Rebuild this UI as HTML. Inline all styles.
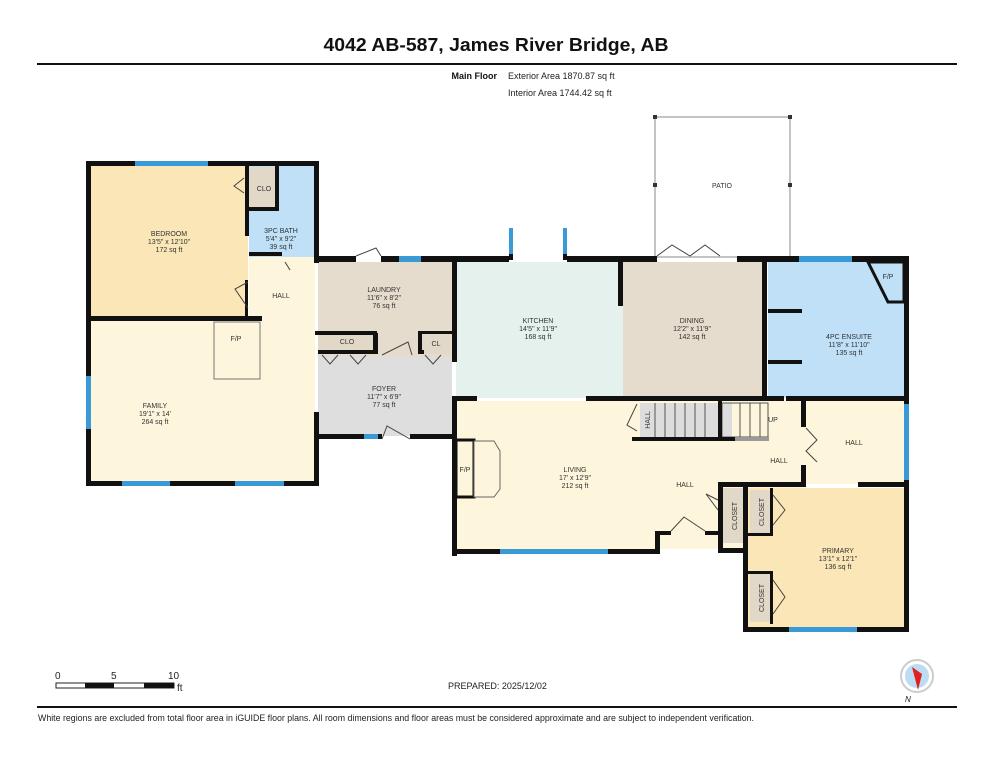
<!DOCTYPE html>
<html><head><meta charset="utf-8"><style>
html,body{margin:0;padding:0;background:#fff;}
svg{display:block;font-family:"Liberation Sans",sans-serif;}
.l{font-size:7px;fill:#333;text-anchor:middle;}
.w{fill:#111;}
.win{fill:#3a9ad6;}
</style></head><body>
<svg width="993" height="768" viewBox="0 0 993 768" xmlns="http://www.w3.org/2000/svg">
<rect width="993" height="768" fill="#fff"/>
<text x="496" y="51" font-size="18" font-weight="bold" text-anchor="middle" textLength="345" lengthAdjust="spacingAndGlyphs" fill="#111">4042 AB-587, James River Bridge, AB</text>
<rect x="37" y="63" width="920" height="2" fill="#111"/>
<text x="497" y="79" font-size="9" font-weight="bold" text-anchor="end" fill="#111">Main Floor</text>
<text x="508" y="79" font-size="9" fill="#222">Exterior Area 1870.87 sq ft</text>
<text x="508" y="96" font-size="9" fill="#222">Interior Area 1744.42 sq ft</text>

<!-- patio -->
<rect x="655" y="117" width="135" height="140" fill="none" stroke="#888" stroke-width="1"/>
<rect x="653" y="115" width="4" height="4" fill="#333"/><rect x="788" y="115" width="4" height="4" fill="#333"/>
<rect x="653" y="183" width="4" height="4" fill="#333"/><rect x="788" y="183" width="4" height="4" fill="#333"/>
<text x="722" y="188" font-size="7" text-anchor="middle" fill="#333">PATIO</text>

<!-- fills -->
<rect x="90" y="165" width="158" height="153" fill="#fbe6b8"/>
<rect x="249" y="165" width="66" height="92" fill="#bfe0f7"/>
<rect x="249" y="167" width="28" height="43" fill="#e2d8c8"/>
<rect x="249" y="257" width="66" height="63" fill="#fdf6dc"/>
<rect x="90" y="320" width="225" height="162" fill="#fdf6dc"/>
<rect x="214" y="322" width="46" height="57" fill="#fdf6dc" stroke="#777" stroke-width="1"/>
<rect x="318" y="262" width="134" height="95" fill="#e6dccd"/>
<rect x="318" y="357" width="134" height="79" fill="#dedede"/>
<rect x="318" y="333" width="58" height="20" fill="#e2d8c8"/>
<rect x="421" y="334" width="29" height="20" fill="#e2d8c8"/>
<rect x="456" y="262" width="167" height="136" fill="#e4f1ec"/>
<rect x="623" y="262" width="142" height="136" fill="#e6dccd"/>
<rect x="768" y="262" width="136" height="136" fill="#bfe0f7"/>
<rect x="456" y="401" width="350" height="148" fill="#fdf6dc"/>
<rect x="806" y="401" width="100" height="83" fill="#fdf6dc"/>
<rect x="748" y="488" width="156" height="139" fill="#fbe6b8"/>
<rect x="722" y="488" width="24" height="55" fill="#e2d8c8"/>
<rect x="750" y="490" width="22" height="45" fill="#e2d8c8"/>
<rect x="750" y="574" width="22" height="48" fill="#e2d8c8"/>
<rect x="509" y="230" width="58" height="30" fill="#fff"/>
<!-- stairs -->
<rect x="640" y="403" width="92" height="34" fill="#ddd"/>
<g stroke="#555" stroke-width="1">
<line x1="655" y1="403" x2="655" y2="437"/><line x1="665" y1="403" x2="665" y2="437"/><line x1="675" y1="403" x2="675" y2="437"/><line x1="685" y1="403" x2="685" y2="437"/><line x1="695" y1="403" x2="695" y2="437"/><line x1="705" y1="403" x2="705" y2="437"/><line x1="740" y1="403" x2="740" y2="437"/><line x1="750" y1="403" x2="750" y2="437"/><line x1="760" y1="403" x2="760" y2="437"/>
</g>
<rect x="722" y="403" width="46" height="34" fill="none" stroke="#555"/>
<rect x="718" y="401" width="4" height="38" fill="#111"/>
<rect x="735" y="437" width="34" height="4" fill="#999"/>
<rect x="632" y="437" width="103" height="4" fill="#111"/>
<!-- fireplace living -->
<rect x="456" y="440" width="18" height="57" fill="#fdf6dc" stroke="#111" stroke-width="3"/>
<polygon points="474,441 494,441 500,451 500,489 494,497 474,497" fill="#fdf6dc" stroke="#666" stroke-width="1"/>
<!-- ensuite fp -->
<polygon points="868,262 904,262 904,302 888,302" fill="#bfe0f7" stroke="#111" stroke-width="3"/>

<!-- walls -->
<g class="w">
<rect x="86" y="161" width="49" height="5"/><rect x="208" y="161" width="110" height="5"/>
<rect x="86" y="161" width="5" height="215"/><rect x="86" y="429" width="5" height="57"/>
<rect x="86" y="481" width="36" height="5"/><rect x="170" y="481" width="65" height="5"/><rect x="284" y="481" width="34" height="5"/>
<rect x="314" y="161" width="5" height="102"/><rect x="314" y="412" width="5" height="74"/>
<rect x="245" y="161" width="4" height="75"/><rect x="245" y="280" width="3" height="40"/>
<rect x="247" y="207" width="32" height="4"/><rect x="275" y="165" width="4" height="46"/>
<rect x="249" y="252" width="33" height="4"/>
<rect x="86" y="316" width="176" height="5"/>
<rect x="314" y="256" width="42" height="6"/><rect x="381" y="256" width="18" height="6"/><rect x="421" y="256" width="35" height="6"/>
<rect x="452" y="256" width="57" height="6"/><rect x="567" y="256" width="90" height="6"/><rect x="737" y="256" width="62" height="6"/><rect x="852" y="256" width="56" height="6"/>
<rect x="509" y="228" width="4" height="32"/><rect x="563" y="228" width="4" height="32"/>
<rect x="452" y="256" width="5" height="106"/><rect x="452" y="396" width="5" height="160"/>
<rect x="618" y="256" width="5" height="50"/>
<rect x="762" y="256" width="5" height="143"/>
<rect x="904" y="256" width="5" height="148"/><rect x="904" y="480" width="5" height="152"/>
<rect x="318" y="350" width="60" height="4"/><rect x="373" y="333" width="5" height="21"/><rect x="315" y="331" width="62" height="4"/>
<rect x="418" y="331" width="4" height="23"/><rect x="418" y="331" width="36" height="3"/>
<rect x="418" y="350" width="6" height="4"/>
<rect x="314" y="434" width="50" height="5"/><rect x="378" y="434" width="4" height="5"/><rect x="410" y="434" width="46" height="5"/>
<rect x="452" y="396" width="25" height="5"/><rect x="586" y="396" width="198" height="5"/><rect x="786" y="396" width="123" height="5"/>
<rect x="768" y="309" width="34" height="4"/><rect x="768" y="360" width="34" height="4"/>
<rect x="452" y="549" width="48" height="5"/><rect x="608" y="549" width="50" height="5"/>
<rect x="655" y="531" width="5" height="23"/><rect x="655" y="531" width="16" height="4"/><rect x="705" y="531" width="17" height="4"/>
<rect x="718" y="483" width="5" height="70"/><rect x="718" y="548" width="30" height="5"/>
<rect x="743" y="483" width="5" height="149"/><rect x="718" y="482" width="88" height="5"/><rect x="858" y="482" width="50" height="5"/>
<rect x="801" y="401" width="5" height="26"/><rect x="801" y="465" width="5" height="20"/>
<rect x="743" y="627" width="46" height="5"/><rect x="857" y="627" width="52" height="5"/>
<rect x="743" y="533" width="30" height="3"/><rect x="743" y="571" width="30" height="3"/>
<rect x="770" y="488" width="3" height="46"/><rect x="770" y="571" width="3" height="53"/>
</g>
<!-- windows -->
<g class="win">
<rect x="135" y="161" width="73" height="5"/><rect x="122" y="481" width="48" height="5"/><rect x="235" y="481" width="49" height="5"/>
<rect x="86" y="376" width="5" height="53"/><rect x="399" y="256" width="22" height="6"/>
<rect x="509" y="228" width="4" height="26"/><rect x="563" y="228" width="4" height="26"/>
<rect x="799" y="256" width="53" height="6"/><rect x="500" y="549" width="108" height="5"/>
<rect x="904" y="404" width="5" height="76"/><rect x="789" y="627" width="68" height="5"/>
<rect x="364" y="434" width="14" height="5"/>
</g>
<!-- door lines -->
<g stroke="#444" stroke-width="1" fill="none">
<path d="M244,178 L234,186 L244,193"/><path d="M248,282 L235,289 L248,308"/>
<path d="M285,262 L290,270"/><path d="M356,256 L376,248 L381,256"/>
<path d="M382,355 L408,342 L412,355"/><path d="M382,439 L387,426 L410,439"/>
<path d="M671,531 L684,517 L705,531"/><path d="M718,500 L706,494 L718,510"/>
<path d="M657,256 L672,245 L690,256 M720,256 L705,245 L690,256"/>
<path d="M637,404 L627,425 L637,431"/>
<path d="M806,428 L817,440 L806,451 L817,462"/>
<path d="M773,495 L785,510 L773,525"/><path d="M773,580 L785,597 L773,614"/>
<path d="M322,355 L330,364 L338,355 M350,355 L358,364 L366,355 M425,355 L433,364 L441,355"/>
</g>
<!-- labels -->
<g class="l">
<text x="169" y="236">BEDROOM</text><text x="169" y="244">13'5" x 12'10"</text><text x="169" y="252">172 sq ft</text>
<text x="264" y="191">CLO</text>
<text x="281" y="233">3PC BATH</text><text x="281" y="241">5'4" x 9'2"</text><text x="281" y="249">39 sq ft</text>
<text x="281" y="298">HALL</text><text x="236" y="341">F/P</text>
<text x="155" y="408">FAMILY</text><text x="155" y="416">19'1" x 14'</text><text x="155" y="424">264 sq ft</text>
<text x="384" y="292">LAUNDRY</text><text x="384" y="300">11'6" x 8'2"</text><text x="384" y="308">76 sq ft</text>
<text x="347" y="344">CLO</text><text x="436" y="346">CL</text>
<text x="384" y="391">FOYER</text><text x="384" y="399">11'7" x 6'9"</text><text x="384" y="407">77 sq ft</text>
<text x="538" y="323">KITCHEN</text><text x="538" y="331">14'5" x 11'9"</text><text x="538" y="339">168 sq ft</text>
<text x="692" y="323">DINING</text><text x="692" y="331">12'2" x 11'9"</text><text x="692" y="339">142 sq ft</text>
<text x="849" y="339">4PC ENSUITE</text><text x="849" y="347">11'8" x 11'10"</text><text x="849" y="355">135 sq ft</text>
<text x="888" y="279">F/P</text>
<text x="575" y="472">LIVING</text><text x="575" y="480">17' x 12'9"</text><text x="575" y="488">212 sq ft</text>
<text x="465" y="472">F/P</text>
<text x="685" y="487">HALL</text><text x="779" y="463">HALL</text><text x="854" y="445">HALL</text>
<text x="773" y="422">UP</text>
<text x="838" y="553">PRIMARY</text><text x="838" y="561">13'1" x 12'1"</text><text x="838" y="569">136 sq ft</text>
<text transform="translate(737,516) rotate(-90)">CLOSET</text>
<text transform="translate(764,512) rotate(-90)">CLOSET</text>
<text transform="translate(764,598) rotate(-90)">CLOSET</text>
<text transform="translate(650,420) rotate(-90)">HALL</text>
</g>

<!-- scale -->
<g font-size="10" fill="#222">
<text x="55" y="679">0</text><text x="111" y="679">5</text><text x="168" y="679">10</text><text x="177" y="691">ft</text>
</g>
<rect x="56" y="683" width="118" height="5" fill="#fff" stroke="#222" stroke-width="1"/>
<rect x="85" y="683" width="29" height="5" fill="#111"/><rect x="144" y="683" width="30" height="5" fill="#111"/>
<text x="448" y="689" font-size="9" fill="#222">PREPARED: 2025/12/02</text>
<circle cx="917" cy="676" r="16" fill="#fff" stroke="#ccc" stroke-width="2"/>
<circle cx="917" cy="676" r="12" fill="#bcdcf2"/>
<polygon points="912,667 922,674 918,690" fill="#e0201e"/>
<text x="905" y="702" font-size="8" font-style="italic" fill="#222">N</text>
<rect x="37" y="706" width="920" height="2" fill="#111"/>
<text x="38" y="721" font-size="9" fill="#222" textLength="716" lengthAdjust="spacingAndGlyphs">White regions are excluded from total floor area in iGUIDE floor plans. All room dimensions and floor areas must be considered approximate and are subject to independent verification.</text>
</svg>
</body></html>
